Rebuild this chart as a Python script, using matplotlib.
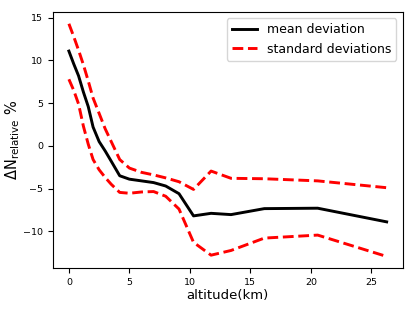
import numpy as np
import matplotlib
matplotlib.use("Agg")
import matplotlib.pyplot as plt

# altitude levels (km)
altitude = [0.0, 0.4, 0.8, 1.2, 1.6, 2.0, 2.5, 3.0, 3.5, 4.2, 5.0, 6.0, 7.0,
            8.0, 9.1, 10.3, 11.75, 13.4, 16.15, 20.56, 26.26]

# mean deviation (%)
mean_dev = [11.1, 9.6, 8.2, 6.3, 4.6, 2.2, 0.5, -0.6, -1.8, -3.5, -3.9, -4.1,
            -4.3, -4.7, -5.6, -8.2, -7.9, -8.05, -7.35, -7.3, -8.9]

# mean +/- standard deviation (%)
upper_dev = [14.3, 12.8, 11.2, 9.5, 7.6, 5.6, 3.8, 2.0, 0.5, -1.6, -2.6, -3.1,
             -3.4, -3.75, -4.2, -5.1, -2.95, -3.8, -3.85, -4.1, -4.9]
lower_dev = [7.8, 6.5, 4.9, 2.3, 0.2, -1.6, -2.8, -3.7, -4.5, -5.45, -5.55,
             -5.4, -5.35, -5.9, -7.4, -11.3, -12.8, -12.25, -10.8, -10.45,
             -12.95]

fig = plt.figure(figsize=(4.15, 3.11), dpi=100)
ax = fig.add_axes([0.1277, 0.138, 0.8423, 0.823])

ax.plot(altitude, mean_dev, color='black', lw=2.1, label='mean deviation')
ax.plot(altitude, upper_dev, color='red', lw=2.1, ls='--',
        label='standard deviations')
ax.plot(altitude, lower_dev, color='red', lw=2.1, ls='--')

ax.set_xticks([0, 5, 10, 15, 20, 25])
ax.set_yticks([-10, -5, 0, 5, 10, 15])
ax.tick_params(labelsize=6.8)
ax.set_xlabel('altitude(km)', fontsize=9.5, labelpad=1.5)
ax.set_ylabel(r'$\Delta\mathrm{N}_{\mathrm{relative}}$ %', fontsize=10.5,
              labelpad=1)
ax.legend(loc='upper right', fontsize=9.0)

fig.savefig('out.png', dpi=100)
